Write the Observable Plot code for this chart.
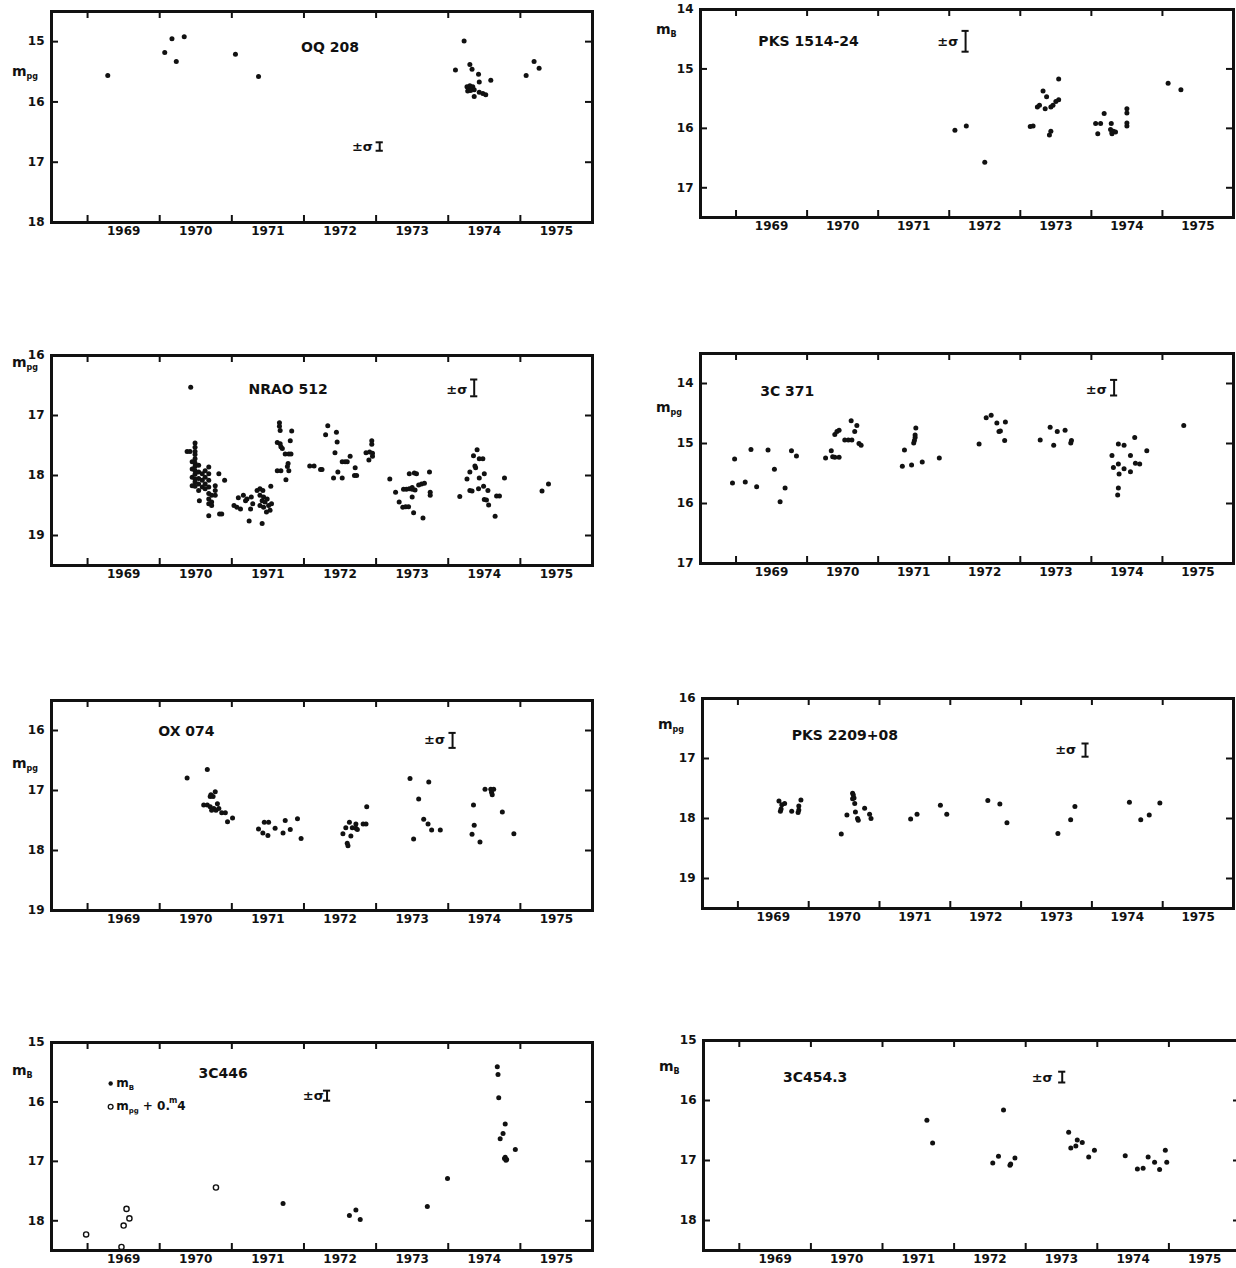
<!DOCTYPE html>
<html><head><meta charset="utf-8">
<script src="https://cdn.jsdelivr.net/npm/d3@7"></script>
<script src="https://cdn.jsdelivr.net/npm/@observablehq/plot@0.6"></script>
<style>
html,body{margin:0;padding:0;background:#fff;width:1236px;height:1268px;overflow:hidden;}
#page{position:relative;width:1236px;height:1268px;overflow:hidden;}
.panel{position:absolute;}
.panel svg{max-width:none !important;display:block;}
</style></head><body><div id="page"></div>
<script>
// ---------- shared axis values ----------
const yearTicks = [1969, 1970, 1971, 1972, 1973, 1974, 1975];
const yearLabels = [1969.5, 1970.5, 1971.5, 1972.5, 1973.5, 1974.5, 1975.5];
const xDomain = [1968.5, 1976];

// ---------- OQ 208 ----------
const oq208Year = [1969.28, 1970.07, 1970.17, 1970.23, 1970.34, 1971.05, 1971.37, 1974.10, 1974.22, 1974.30, 1974.33, 1974.42, 1974.43, 1974.59, 1974.26, 1974.28, 1974.30, 1974.32, 1974.34, 1974.36, 1974.27, 1974.31, 1974.36, 1974.43, 1974.48, 1974.52, 1975.08, 1975.19, 1975.26];
const oq208Mag = [15.56, 15.18, 14.95, 15.33, 14.92, 15.21, 15.58, 15.47, 14.99, 15.38, 15.46, 15.54, 15.67, 15.64, 15.75, 15.78, 15.73, 15.77, 15.75, 15.80, 15.82, 15.81, 15.91, 15.84, 15.86, 15.88, 15.56, 15.33, 15.44];

// ---------- PKS 1514-24 ----------
const pks1514Year = [1972.08, 1972.24, 1972.50, 1973.14, 1973.18, 1973.24, 1973.27, 1973.32, 1973.37, 1973.35, 1973.43, 1973.46, 1973.41, 1973.43, 1973.50, 1973.54, 1973.54, 1974.06, 1974.09, 1974.13, 1974.18, 1974.28, 1974.27, 1974.29, 1974.31, 1974.34, 1974.29, 1974.50, 1974.50, 1974.50, 1974.50, 1975.08, 1975.26];
const pks1514Mag = [16.03, 15.96, 16.57, 15.97, 15.96, 15.64, 15.61, 15.37, 15.47, 15.67, 15.64, 15.61, 16.11, 16.05, 15.55, 15.52, 15.17, 15.92, 16.09, 15.92, 15.75, 15.92, 16.02, 16.07, 16.05, 16.06, 16.09, 15.67, 15.74, 15.91, 15.96, 15.24, 15.35];

// ---------- NRAO 512 ----------
const nrao512Year = [
 1970.43, 1970.38, 1970.42,
 1970.49, 1970.49, 1970.49, 1970.49, 1970.49, 1970.49, 1970.49, 1970.49, 1970.49, 1970.49, 1970.49, 1970.49,
 1970.45, 1970.45, 1970.45, 1970.45,
 1970.54, 1970.54, 1970.54, 1970.54, 1970.54,
 1970.59, 1970.59, 1970.59,
 1970.63, 1970.63, 1970.63, 1970.63,
 1970.68, 1970.68, 1970.68, 1970.68, 1970.68, 1970.68, 1970.68,
 1970.72, 1970.72, 1970.72, 1970.55, 1970.82, 1970.90, 1970.77, 1970.77, 1970.77, 1970.68, 1970.83, 1970.86,
 1971.03, 1971.07, 1971.09, 1971.12, 1971.16, 1971.19, 1971.21, 1971.27, 1971.29, 1971.26, 1971.24, 1971.35, 1971.39, 1971.43, 1971.39, 1971.44, 1971.42, 1971.46, 1971.49, 1971.39, 1971.44, 1971.51, 1971.55, 1971.53, 1971.48, 1971.54, 1971.42,
 1971.66, 1971.66, 1971.67, 1971.83, 1971.63, 1971.67, 1971.68, 1971.70, 1971.81, 1971.74, 1971.79, 1971.82, 1971.78, 1971.77, 1971.79, 1971.63, 1971.68, 1971.75,
 1972.08, 1972.14, 1972.23, 1972.25, 1972.33, 1972.30, 1972.45, 1972.46, 1972.43, 1972.64, 1972.53, 1972.57, 1972.60, 1972.47, 1972.41, 1972.53, 1972.71, 1972.70, 1972.73, 1972.94, 1972.94, 1972.86, 1972.91, 1972.95, 1972.90, 1972.95,
 1973.19, 1973.46, 1973.53, 1973.56, 1973.74, 1973.27, 1973.38, 1973.42, 1973.46, 1973.50, 1973.54, 1973.50, 1973.59, 1973.63, 1973.67, 1973.75, 1973.75, 1973.50, 1973.32, 1973.37, 1973.41, 1973.45, 1973.52, 1973.65,
 1974.40, 1974.35, 1974.43, 1974.48, 1974.37, 1974.38, 1974.30, 1974.26, 1974.50, 1974.43, 1974.30, 1974.33, 1974.42, 1974.49, 1974.55, 1974.16, 1974.50, 1974.53, 1974.56, 1974.67, 1974.71, 1974.65, 1974.78,
 1975.30, 1975.39];
const nrao512Mag = [
 16.53, 17.60, 17.60,
 17.46, 17.53, 17.60, 17.65, 17.72, 17.79, 17.85, 17.92, 17.98, 18.06, 18.11, 18.18,
 17.77, 17.89, 18.03, 18.17,
 17.83, 17.94, 18.05, 18.14, 18.25,
 17.97, 18.08, 18.19,
 17.92, 18.03, 18.14, 18.22,
 17.86, 17.97, 18.08, 18.19, 18.30, 18.39, 18.47,
 18.33, 18.44, 18.50, 18.42, 17.97, 18.08, 18.17, 18.25, 18.33, 18.67, 18.64, 18.64,
 18.50, 18.53, 18.37, 18.56, 18.33, 18.42, 18.39, 18.36, 18.47, 18.56, 18.76, 18.25, 18.22, 18.25, 18.33, 18.36, 18.42, 18.44, 18.39, 18.50, 18.53, 18.50, 18.47, 18.58, 18.61, 18.18, 18.80,
 17.12, 17.18, 17.25, 17.26, 17.45, 17.47, 17.52, 17.55, 17.42, 17.64, 17.64, 17.64, 17.80, 17.85, 17.92, 17.92, 17.92, 18.07,
 17.84, 17.84, 17.90, 17.90, 17.17, 17.32, 17.28, 17.44, 17.62, 17.68, 17.77, 17.77, 17.77, 17.94, 18.04, 18.04, 17.87, 18.00, 18.00, 17.42, 17.48, 17.62, 17.61, 17.63, 17.74, 17.68,
 18.06, 17.97, 17.96, 17.97, 17.94, 18.28, 18.23, 18.23, 18.22, 18.23, 18.24, 18.20, 18.16, 18.14, 18.13, 18.28, 18.33, 18.36, 18.44, 18.53, 18.52, 18.52, 18.62, 18.71,
 17.57, 17.67, 17.72, 17.72, 17.84, 17.87, 17.94, 18.06, 17.97, 18.04, 18.25, 18.26, 18.22, 18.18, 18.25, 18.35, 18.40, 18.41, 18.49, 18.34, 18.34, 18.68, 18.04,
 18.26, 18.14];

// ---------- 3C 371 ----------
const c371Year = [1968.95, 1968.98, 1969.13, 1969.21, 1969.29, 1969.45, 1969.54, 1969.62, 1969.69, 1969.78, 1969.85, 1970.26, 1970.34, 1970.36, 1970.39, 1970.45, 1970.39, 1970.42, 1970.45, 1970.53, 1970.58, 1970.63, 1970.62, 1970.67, 1970.70, 1970.73, 1970.76, 1971.37, 1971.34, 1971.47, 1971.53, 1971.52, 1971.52, 1971.51, 1971.50, 1971.62, 1971.86, 1972.42, 1972.52, 1972.59, 1972.67, 1972.70, 1972.72, 1972.79, 1972.78, 1973.28, 1973.42, 1973.47, 1973.52, 1973.63, 1973.71, 1973.72, 1974.29, 1974.31, 1974.38, 1974.38, 1974.39, 1974.38, 1974.37, 1974.46, 1974.46, 1974.55, 1974.55, 1974.61, 1974.62, 1974.68, 1974.78, 1975.30];
const c371Mag = [15.66, 15.26, 15.64, 15.10, 15.72, 15.11, 15.43, 15.97, 15.74, 15.12, 15.21, 15.24, 15.12, 15.22, 15.23, 15.23, 14.85, 14.80, 14.78, 14.94, 14.94, 14.94, 14.62, 14.80, 14.70, 15.00, 15.03, 15.11, 15.38, 15.36, 14.74, 14.86, 14.90, 14.95, 14.99, 15.31, 15.24, 15.01, 14.57, 14.53, 14.66, 14.80, 14.79, 14.64, 14.95, 14.94, 14.73, 15.03, 14.80, 14.78, 14.99, 14.95, 15.20, 15.40, 15.01, 15.34, 15.51, 15.74, 15.86, 15.03, 15.42, 15.20, 15.47, 14.90, 15.33, 15.34, 15.12, 14.70];

// ---------- OX 074 ----------
const ox074Year = [1970.38, 1970.66, 1970.77, 1970.71, 1970.70, 1970.74, 1970.61, 1970.66, 1970.70, 1970.75, 1970.72, 1970.78, 1970.82, 1970.80, 1970.86, 1970.91, 1971.01, 1970.94, 1971.37, 1971.43, 1971.45, 1971.51, 1971.50, 1971.60, 1971.71, 1971.74, 1971.81, 1971.91, 1971.96, 1972.54, 1972.58, 1972.60, 1972.61, 1972.63, 1972.65, 1972.67, 1972.72, 1972.74, 1972.72, 1972.82, 1972.86, 1972.87, 1973.47, 1973.52, 1973.59, 1973.66, 1973.72, 1973.73, 1973.77, 1973.89, 1974.33, 1974.35, 1974.36, 1974.44, 1974.51, 1974.59, 1974.60, 1974.61, 1974.63, 1974.75, 1974.91];
const ox074Mag = [16.79, 16.65, 17.02, 17.07, 17.10, 17.10, 17.24, 17.24, 17.27, 17.30, 17.33, 17.33, 17.30, 17.22, 17.37, 17.37, 17.46, 17.52, 17.64, 17.71, 17.53, 17.53, 17.75, 17.63, 17.71, 17.50, 17.65, 17.47, 17.80, 17.72, 17.62, 17.88, 17.92, 17.53, 17.76, 17.62, 17.63, 17.65, 17.56, 17.56, 17.56, 17.27, 16.80, 17.81, 17.14, 17.48, 17.56, 16.86, 17.66, 17.66, 17.73, 17.24, 17.58, 17.86, 16.98, 16.98, 17.03, 17.07, 16.98, 17.36, 17.72];

// ---------- PKS 2209+08 ----------
const pks2209Year = [1969.58, 1969.62, 1969.61, 1969.60, 1969.66, 1969.76, 1969.86, 1969.86, 1969.85, 1969.89, 1970.46, 1970.54, 1970.62, 1970.63, 1970.64, 1970.62, 1970.65, 1970.66, 1970.69, 1970.70, 1970.79, 1970.86, 1970.88, 1971.44, 1971.53, 1971.86, 1971.95, 1972.53, 1972.70, 1972.80, 1973.52, 1973.70, 1973.76, 1974.53, 1974.69, 1974.81, 1974.96];
const pks2209Mag = [17.71, 17.77, 17.84, 17.88, 17.75, 17.88, 17.86, 17.79, 17.90, 17.69, 18.26, 17.94, 17.58, 17.61, 17.66, 17.67, 17.75, 17.89, 18.00, 18.03, 17.83, 17.93, 18.00, 18.01, 17.93, 17.78, 17.93, 17.70, 17.76, 18.07, 18.25, 18.02, 17.80, 17.73, 18.02, 17.94, 17.74];

// ---------- 3C 446 ----------
const c446Year = [1971.71, 1972.63, 1972.72, 1972.78, 1973.71, 1973.99, 1974.68, 1974.69, 1974.70, 1974.72, 1974.76, 1974.79, 1974.78, 1974.80, 1974.79, 1974.81, 1974.93];
const c446Mag = [17.71, 17.91, 17.82, 17.98, 17.76, 17.29, 15.41, 15.54, 15.93, 16.62, 16.53, 16.37, 16.95, 16.98, 16.93, 16.97, 16.80];
const c446PgYear = [1968.98, 1969.47, 1969.50, 1969.54, 1969.58, 1970.78];
const c446PgMag = [18.23, 18.44, 18.08, 17.80, 17.96, 17.44];

// ---------- 3C 454.3 ----------
const c454Year = [1971.62, 1971.70, 1972.54, 1972.62, 1972.69, 1972.78, 1972.79, 1972.85, 1973.60, 1973.63, 1973.70, 1973.72, 1973.79, 1973.88, 1973.96, 1974.39, 1974.56, 1974.64, 1974.71, 1974.80, 1974.87, 1974.95, 1974.97];
const c454Mag = [16.33, 16.71, 17.04, 16.93, 16.16, 17.08, 17.06, 16.96, 16.53, 16.79, 16.76, 16.66, 16.70, 16.94, 16.83, 16.92, 17.14, 17.13, 16.94, 17.03, 17.15, 16.83, 17.03];

// ---------- panel texts ----------
const titles = ["OQ 208", "PKS 1514-24", "NRAO 512", "3C 371", "OX 074", "PKS 2209+08", "3C446", "3C454.3"];
const axisSubs = ["pg", "B", "pg", "pg", "pg", "pg", "B", "B"];
const magDomains = [[14.5, 18], [14, 17.5], [16, 19.5], [13.5, 17], [15.5, 19], [16, 19.5], [15, 18.5], [15, 18.5]];
// annotation anchors in data units: title [year, mag], sigma text, sigma bar [year, mag1, mag2], axis label mag
const titlePos = [[1972.36, 15.1], [1970.02, 14.54], [1971.78, 16.57], [1969.72, 14.14], [1970.37, 16.02], [1970.51, 16.62], [1970.88, 15.52], [1970.06, 15.62]];
const sigmaText = [[1972.81, 16.74], [1971.98, 14.54], [1974.12, 16.57], [1974.07, 14.10], [1973.81, 16.16], [1973.63, 16.86], [1972.13, 15.90], [1973.23, 15.62]];
const sigmaBar = [[1973.05, 16.67, 16.81], [1972.23, 14.36, 14.71], [1974.36, 16.40, 16.68], [1974.32, 13.94, 14.20], [1974.06, 16.04, 16.29], [1973.91, 16.75, 16.97], [1972.32, 15.81, 15.98], [1973.51, 15.52, 15.70]];
const axisLabelMag = [15.58, 14.42, 16.2, 14.48, 16.64, 16.52, 15.55, 15.52];
// 3C446 legend anchor [year, mag of m_B row, mag of m_pg row]
const legend446 = [1969.32, 15.69, 16.08];

// ---------- page layout (frame box in page pixels) ----------
const frames = [
  {left: 51, top: 11, width: 541, height: 211},
  {left: 700, top: 9, width: 533, height: 208},
  {left: 51, top: 355, width: 541, height: 210},
  {left: 700, top: 353, width: 533, height: 210},
  {left: 51, top: 700, width: 541, height: 210},
  {left: 702, top: 698, width: 531, height: 210},
  {left: 51, top: 1042, width: 541, height: 208},
  {left: 703, top: 1040, width: 537, height: 210}
];
const series = [
  [oq208Year, oq208Mag], [pks1514Year, pks1514Mag], [nrao512Year, nrao512Mag], [c371Year, c371Mag],
  [ox074Year, ox074Mag], [pks2209Year, pks2209Mag], [c446Year, c446Mag], [c454Year, c454Mag]
];

const INK = "#111";
const FONT = "'DejaVu Sans', sans-serif";
const page = document.getElementById("page");

function richText(svg, x, y, size) {
  return svg.append("text").attr("x", x).attr("y", y).attr("text-anchor", "start")
    .attr("font-family", FONT).attr("font-weight", "bold").attr("font-size", size).attr("fill", INK);
}

function makePanel(i) {
  const f = frames[i];
  const M = {l: 52, r: 12, t: 12, b: 28};
  const W = f.width + M.l + M.r, H = f.height + M.t + M.b;
  const [lo, hi] = magDomains[i];
  const magLabels = d3.range(Math.ceil(lo), Math.floor(hi) + 1);
  const magTicks = magLabels.filter(v => v > lo && v < hi);
  const [ys, ms] = series[i];
  const data = ys.map((x, k) => ({x, y: ms[k]}));
  const tk = 7;
  const marks = [
    Plot.tickX(yearTicks, {x: d => d, insetTop: f.height - tk, stroke: INK, strokeWidth: 2}),
    Plot.tickX(yearTicks, {x: d => d, insetBottom: f.height - tk, stroke: INK, strokeWidth: 2}),
    Plot.tickY(magTicks, {y: d => d, insetRight: f.width - tk, stroke: INK, strokeWidth: 2}),
    Plot.tickY(magTicks, {y: d => d, insetLeft: f.width - tk, stroke: INK, strokeWidth: 2}),
    Plot.frame({stroke: INK, strokeWidth: 3}),
    Plot.axisX({ticks: yearLabels, anchor: "bottom", label: null, tickSize: 0, tickPadding: 4, tickFormat: d => String(Math.floor(d)), fontSize: 12, fontWeight: "bold", fill: INK}),
    Plot.axisY({ticks: magLabels, anchor: "left", label: null, tickSize: 0, tickPadding: 7, tickFormat: d => String(d), fontSize: 12, fontWeight: "bold", fill: INK}),
    Plot.dot(data, {x: "x", y: "y", r: 2.5, fill: INK}),
    Plot.text([titles[i]], {x: () => titlePos[i][0], y: () => titlePos[i][1], text: d => d, fontSize: 14, fontWeight: "bold", fill: INK}),
    Plot.text(["±σ"], {x: () => sigmaText[i][0], y: () => sigmaText[i][1], text: d => d, fontSize: 13, fontWeight: "bold", fill: INK}),
    Plot.ruleX([sigmaBar[i]], {x: d => d[0], y1: d => d[1], y2: d => d[2], stroke: INK, strokeWidth: 2}),
    Plot.ruleY([sigmaBar[i][1], sigmaBar[i][2]], {y: d => d, x1: () => sigmaBar[i][0] - 0.05, x2: () => sigmaBar[i][0] + 0.05, stroke: INK, strokeWidth: 2})
  ];
  if (i === 6) {
    marks.push(Plot.dot(c446PgYear.map((x, k) => ({x, y: c446PgMag[k]})), {x: "x", y: "y", r: 2.6, fill: "white", stroke: INK, strokeWidth: 1.4}));
    marks.push(Plot.dot([legend446], {x: d => d[0], y: d => d[1], r: 2.2, fill: INK}));
    marks.push(Plot.dot([legend446], {x: d => d[0], y: d => d[2], r: 2.4, fill: "white", stroke: INK, strokeWidth: 1.3}));
  }
  const chart = Plot.plot({
    width: W,
    height: H,
    marginLeft: M.l, marginRight: M.r, marginTop: M.t, marginBottom: M.b,
    x: {domain: xDomain, axis: null},
    y: {domain: magDomains[i], reverse: true, axis: null},
    style: {fontFamily: FONT, background: "white", color: INK, overflow: "visible", maxWidth: "none"},
    marks
  });
  chart.style.maxWidth = "none";
  chart.style.width = W + "px";
  chart.style.height = H + "px";
  const sy = chart.scale("y"), sx = chart.scale("x");
  const svg = d3.select(chart);
  const lab = richText(svg, M.l - (i % 2 ? 44 : 39), sy.apply(axisLabelMag[i]), 14);
  lab.append("tspan").text("m");
  lab.append("tspan").attr("font-size", 8).attr("dy", 3).text(axisSubs[i]);

  if (i === 6) {
    const lx = sx.apply(legend446[0]) + 6;
    const t1 = richText(svg, lx, sy.apply(legend446[1]) + 4, 12);
    t1.append("tspan").text("m");
    t1.append("tspan").attr("font-size", 7).attr("dy", 3).text("B");
    const t2 = richText(svg, lx, sy.apply(legend446[2]) + 4, 12);
    t2.append("tspan").text("m");
    t2.append("tspan").attr("font-size", 7).attr("dy", 3).text("pg");
    t2.append("tspan").attr("dy", -3).text(" + 0.");
    t2.append("tspan").attr("font-size", 8).attr("dx", -1).attr("dy", -7).text("m");
    t2.append("tspan").attr("dy", 7).text("4");
  }

  const div = document.createElement("div");
  div.className = "panel";
  div.style.left = (f.left - M.l) + "px";
  div.style.top = (f.top - M.t) + "px";
  div.style.width = W + "px";
  div.style.height = H + "px";
  div.appendChild(chart);
  page.appendChild(div);
}

for (let i = 0; i < 8; i++) makePanel(i);
</script>
</body></html>
